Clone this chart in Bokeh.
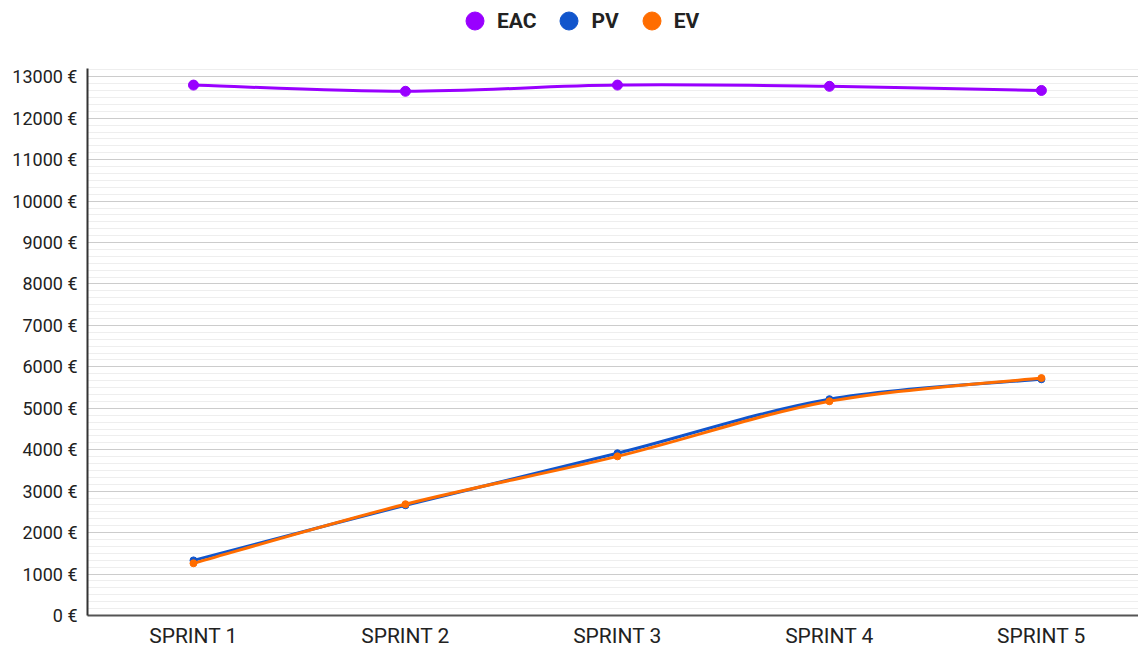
from bokeh.plotting import figure
from bokeh.layouts import column
from bokeh.models import (Legend, LegendItem, SingleIntervalTicker, FixedTicker,
                          PrintfTickFormatter, Range1d)
from bokeh.embed import file_html
from bokeh.resources import INLINE

categories = ["SPRINT 1", "SPRINT 2", "SPRINT 3", "SPRINT 4", "SPRINT 5"]
eac = [12800, 12650, 12800, 12770, 12670]
pv = [1330, 2660, 3915, 5220, 5700]
ev = [1260, 2685, 3840, 5170, 5730]

series = [("EAC", eac, "#9900ff", 10), ("PV", pv, "#1155cc", 7), ("EV", ev, "#ff6d00", 7)]

xs = list(range(len(categories)))

# legend strip
lg = figure(width=1138, height=40, output_backend="svg", toolbar_location=None,
            x_axis_type=None, y_axis_type=None, x_range=Range1d(0, 1), y_range=Range1d(0, 1),
            min_border=0)
lg.outline_line_color = None
lg.xgrid.grid_line_color = None
lg.ygrid.grid_line_color = None

p = figure(width=1138, height=610, output_backend="svg", toolbar_location=None,
           x_range=Range1d(-0.5, len(categories) - 0.542), y_range=Range1d(0, 13200),
           min_border_left=87, min_border_right=0, min_border_bottom=35, min_border_top=28)
p.outline_line_color = None
p.background_fill_color = "white"


def bezier_ctrl(x, y):
    n = len(x)
    x0, y0, x1, y1, cx0, cy0, cx1, cy1 = [], [], [], [], [], [], [], []
    for i in range(n - 1):
        xp, yp = (x[i - 1], y[i - 1]) if i > 0 else (x[i], y[i])
        xn, yn = (x[i + 2], y[i + 2]) if i + 2 < n else (x[i + 1], y[i + 1])
        x0.append(x[i]); y0.append(y[i]); x1.append(x[i + 1]); y1.append(y[i + 1])
        cx0.append(x[i] + (x[i + 1] - xp) / 6); cy0.append(y[i] + (y[i + 1] - yp) / 6)
        cx1.append(x[i + 1] - (xn - x[i]) / 6); cy1.append(y[i + 1] - (yn - y[i]) / 6)
    return dict(x0=x0, y0=y0, x1=x1, y1=y1, cx0=cx0, cy0=cy0, cx1=cx1, cy1=cy1)


items = []
for name, vals, color, size in series:
    d = bezier_ctrl(xs, vals)
    p.bezier(x0=d["x0"], y0=d["y0"], x1=d["x1"], y1=d["y1"], cx0=d["cx0"], cy0=d["cy0"],
             cx1=d["cx1"], cy1=d["cy1"], line_color=color, line_width=3)
    p.scatter(xs, vals, size=size, fill_color=color, line_color=color)
    dummy = lg.scatter([float("nan")], [float("nan")], size=18, fill_color=color, line_color=color)
    items.append(LegendItem(label=name, renderers=[dummy]))

legend = Legend(items=items, orientation="horizontal", location=(365, -3),
                label_text_font="Roboto", label_text_font_style="bold",
                label_text_font_size="21px", label_text_color="#222222",
                glyph_width=45, glyph_height=45, spacing=10, border_line_color=None,
                background_fill_alpha=0, padding=0, margin=0, label_standoff=-6)
lg.add_layout(legend, "center")

yaxis = p.yaxis[0]
yaxis.ticker = SingleIntervalTicker(interval=1000, num_minor_ticks=6)
yaxis.formatter = PrintfTickFormatter(format="%d €")
yaxis.major_label_text_font = "Roboto"
yaxis.major_label_text_font_size = "18px"
yaxis.major_label_text_color = "#222222"
yaxis.axis_line_color = "#333333"
yaxis.axis_line_width = 2
yaxis.major_tick_line_color = None
yaxis.minor_tick_line_color = None
yaxis.major_tick_out = 0
yaxis.major_tick_in = 0
yaxis.minor_tick_out = 0
yaxis.major_label_standoff = 10

xaxis = p.xaxis[0]
xaxis.ticker = FixedTicker(ticks=xs)
xaxis.major_label_overrides = {i: c for i, c in enumerate(categories)}
xaxis.major_label_text_font = "Roboto"
xaxis.major_label_text_font_size = "21px"
xaxis.major_label_text_color = "#222222"
xaxis.axis_line_color = "#555555"
xaxis.axis_line_width = 2
xaxis.major_tick_line_color = None
xaxis.minor_tick_line_color = None
xaxis.major_tick_out = 0
xaxis.major_tick_in = 0
xaxis.minor_tick_out = 0
xaxis.major_label_standoff = 8

p.xgrid.grid_line_color = None
p.ygrid.grid_line_color = "#cccccc"
p.ygrid.grid_line_width = 1
p.ygrid.minor_grid_line_color = "#eeeeee"
p.ygrid.ticker = yaxis.ticker

layout = column(lg, p, spacing=0)
open("out.html", "w").write(file_html(layout, INLINE))
